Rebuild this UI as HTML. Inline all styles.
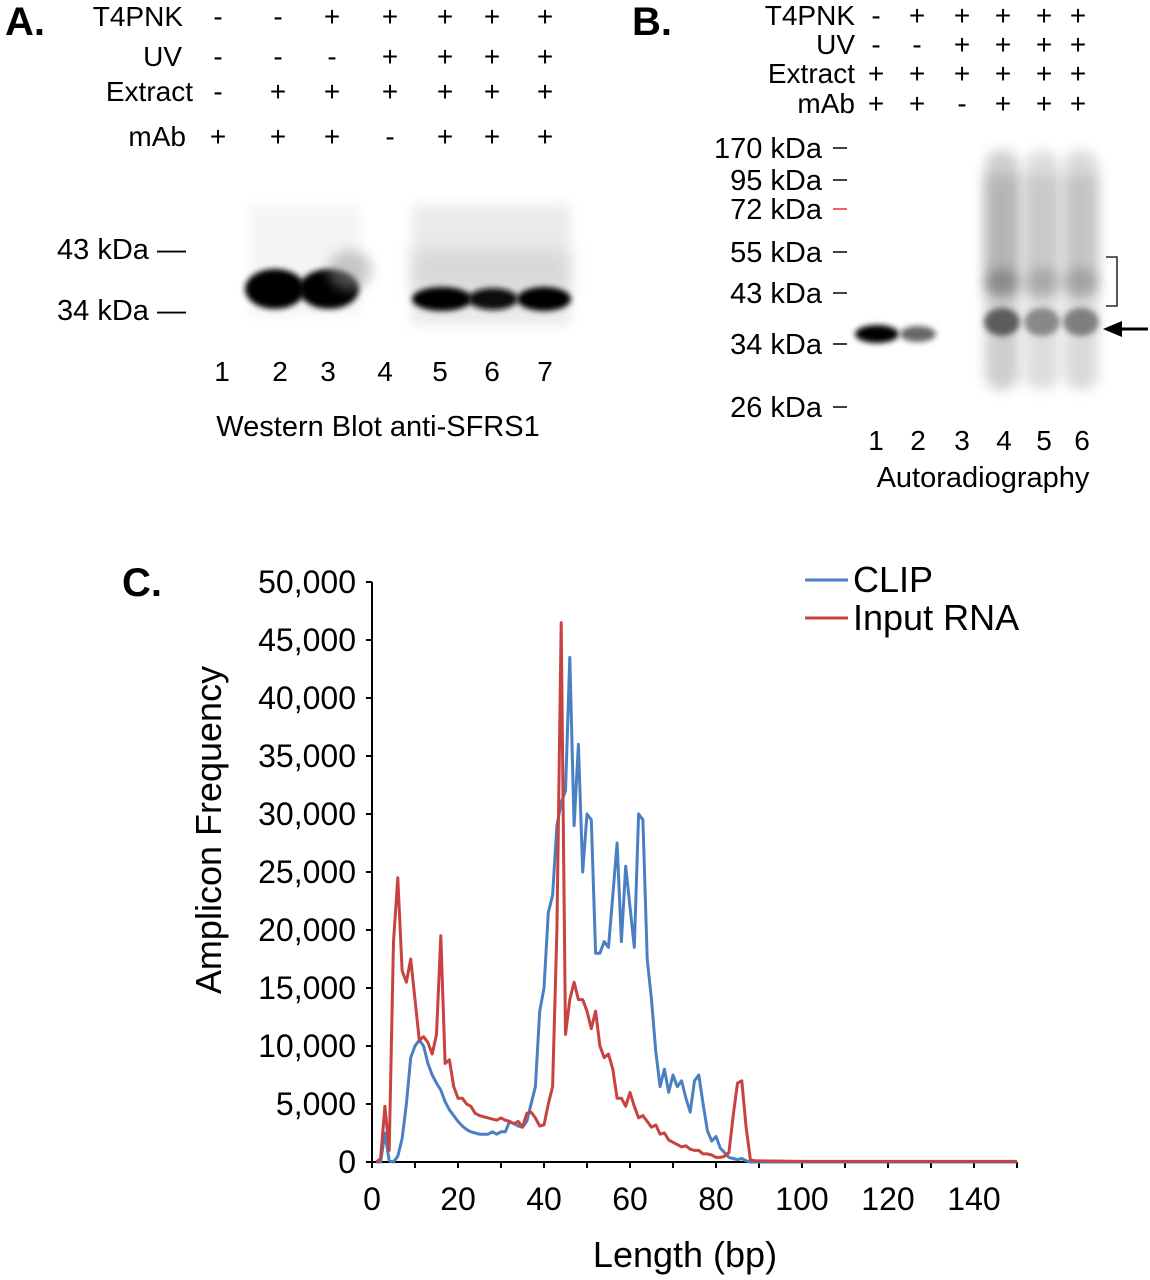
<!DOCTYPE html>
<html><head><meta charset="utf-8"><style>
body{margin:0;background:#fff;}
svg{display:block;font-family:"Liberation Sans",Arial,sans-serif;}
</style></head><body>
<svg id="fig" width="1150" height="1280" viewBox="0 0 1150 1280">
<defs>
<filter id="b6" x="-50%" y="-50%" width="200%" height="200%"><feGaussianBlur stdDeviation="6"/></filter>
<filter id="b3" x="-50%" y="-50%" width="200%" height="200%"><feGaussianBlur stdDeviation="3"/></filter>
<filter id="b10" x="-50%" y="-50%" width="200%" height="200%"><feGaussianBlur stdDeviation="9"/></filter>
</defs>
<g id="panelA"></g>
<g id="panelB"></g>
<g id="panelC"></g>
</svg>
<script>
// ---- Chart data (panel C) ----
const xTicks = [0,20,40,60,80,100,120,140];
const yTicks = [0,5000,10000,15000,20000,25000,30000,35000,40000,45000,50000];
const yTickLabels = ["0","5,000","10,000","15,000","20,000","25,000","30,000","35,000","40,000","45,000","50,000"];
const clipBp = [1,2,3,4,5,6,7,8,9,10,11,12,13,14,15,16,17,18,19,20,21,22,23,24,25,26,27,28,29,30,31,32,33,34,35,36,37,38,39,40,41,42,43,44,45,46,47,48,49,50,51,52,53,54,55,56,57,58,59,60,61,62,63,64,65,66,67,68,69,70,71,72,73,74,75,76,77,78,79,80,81,82,83,84,85,86,87,88,100,120,150];
const clipVals = [0,0,2500,100,0,500,2000,5000,9000,10000,10500,10000,8500,7500,6800,6200,5200,4500,4000,3500,3100,2800,2600,2500,2400,2400,2400,2600,2400,2600,2600,3500,3300,3100,3000,3500,5000,6500,13000,15000,21500,23000,29000,31000,32000,43500,29000,36000,25000,30000,29500,18000,18000,19000,18500,23000,27500,19000,25500,22000,18500,30000,29500,17500,14000,9500,6500,8000,6000,7500,6500,7000,5500,4300,7000,7500,5000,2700,1800,2200,1200,800,400,300,200,300,100,0,0,0,0];
const inputBp = [1,2,3,4,5,6,7,8,9,10,11,12,13,14,15,16,17,18,19,20,21,22,23,24,25,26,27,28,29,30,31,32,33,34,35,36,37,38,39,40,41,42,43,44,45,46,47,48,49,50,51,52,53,54,55,56,57,58,59,60,61,62,63,64,65,66,67,68,69,70,71,72,73,74,75,76,77,78,79,80,81,82,83,84,85,86,87,88,89,100,120,150];
const inputVals = [0,300,4800,1000,19000,24500,16500,15500,17500,14000,10500,10800,10300,9300,11000,19500,8500,8800,6500,5500,5500,5000,4800,4200,4000,3900,3800,3700,3600,3800,3600,3500,3300,3500,3000,4200,4300,3800,3100,3200,5000,6500,20000,46500,11000,14000,15500,14000,14000,13000,11500,13000,10000,9000,9300,8000,5500,5500,4800,6000,4800,3800,4000,3500,3000,3200,2400,2500,1900,1700,1500,1300,1400,1100,1000,1000,700,700,600,400,400,500,800,4000,6800,7000,3000,200,100,50,50,50];

const NS="http://www.w3.org/2000/svg";
function el(parent,tag,attrs,text){const e=document.createElementNS(NS,tag);for(const k in attrs)e.setAttribute(k,attrs[k]);if(text!==undefined)e.textContent=text;parent.appendChild(e);return e;}

// ---------- Panel A ----------
const A=document.getElementById('panelA');
let t=el(A,'text',{x:5,y:35,'font-size':40,'font-weight':'bold'},'A.');


const aRows=[["T4PNK",26,"--+++++"],["UV",66,"---++++"],["Extract",101,"-++++++"],["mAb",146,"+++-+++"]];
const aCols=[218,278,332,390,445,492,545];
const aRight=[183,182,193,186];
aRows.forEach((r,i)=>{
  let l=el(A,'text',{x:aRight[i],y:r[1],'font-size':28,'text-anchor':'end'},r[0]);
  
  
  [...r[2]].forEach((c,j)=>{
    let s=el(A,'text',{x:aCols[j],y:r[1],'font-size':28,'text-anchor':'middle'},c);
    
    
  });
});
// gel A
let g=el(A,'g',{});


el(g,'rect',{x:250,y:205,width:110,height:110,fill:'#f4f4f4',filter:'url(#b6)'});
el(g,'rect',{x:412,y:205,width:158,height:120,fill:'#eaeaea',filter:'url(#b6)'});
el(g,'rect',{x:412,y:250,width:158,height:40,fill:'#ccc',opacity:0.6,filter:'url(#b10)'});
el(g,'ellipse',{cx:275,cy:289,rx:30,ry:20,fill:'#000',filter:'url(#b3)'});
el(g,'ellipse',{cx:329,cy:289,rx:30,ry:20,fill:'#000',filter:'url(#b3)'});
el(g,'ellipse',{cx:350,cy:270,rx:22,ry:20,fill:'#999',opacity:0.5,filter:'url(#b6)'});
el(g,'ellipse',{cx:442,cy:299,rx:30,ry:12,fill:'#000',filter:'url(#b3)'});
el(g,'ellipse',{cx:493,cy:299,rx:25,ry:11,fill:'#111',filter:'url(#b3)'});
el(g,'ellipse',{cx:544,cy:299,rx:27,ry:12,fill:'#000',filter:'url(#b3)'});
[["43 kDa —",259],["34 kDa —",320]].forEach(m=>{
  let l=el(A,'text',{x:186,y:m[1],'font-size':29,'text-anchor':'end'},m[0]);
  
  
});
[222,280,328,385,440,492,545].forEach((x,i)=>{
  let l=el(A,'text',{x:x,y:381,'font-size':28,'text-anchor':'middle'},String(i+1));
  
  
});
t=el(A,'text',{x:378,y:436,'font-size':29,'text-anchor':'middle'},'Western Blot anti-SFRS1');



// ---------- Panel B ----------
const B=document.getElementById('panelB');
t=el(B,'text',{x:632,y:35,'font-size':40,'font-weight':'bold'},'B.');


const bRows=[["T4PNK",25,"-+++++"],["UV",54,"--++++"],["Extract",83,"++++++"],["mAb",113,"++-+++"]];
const bCols=[876,917,962,1003,1044,1078];
bRows.forEach(r=>{
  let l=el(B,'text',{x:855,y:r[1],'font-size':28,'text-anchor':'end'},r[0]);
  
  
  [...r[2]].forEach((c,j)=>{
    let s=el(B,'text',{x:bCols[j],y:r[1],'font-size':28,'text-anchor':'middle'},c);
    
    
  });
});
g=el(B,'g',{});


[[1002,0.8],[1042,0.55],[1081,0.6]].forEach(l=>{
  el(g,'rect',{x:l[0]-17,y:150,width:34,height:240,rx:16,fill:'#999',opacity:l[1]*0.6,filter:'url(#b6)'});
  el(g,'rect',{x:l[0]-18,y:175,width:36,height:100,fill:'#777',opacity:l[1]*0.35,filter:'url(#b6)'});
  el(g,'ellipse',{cx:l[0],cy:283,rx:18,ry:14,fill:'#444',opacity:l[1]*0.6,filter:'url(#b6)'});
  el(g,'ellipse',{cx:l[0],cy:322,rx:18,ry:14,fill:'#333',opacity:l[1]*0.9,filter:'url(#b3)'});
});
el(g,'ellipse',{cx:877,cy:334,rx:22,ry:9,fill:'#000',filter:'url(#b3)'});
el(g,'ellipse',{cx:918,cy:334,rx:18,ry:8,fill:'#666',filter:'url(#b3)'});
const bMarks=[["170 kDa",148,'#000'],["95 kDa",180,'#000'],["72 kDa",209,'#e33'],["55 kDa",252,'#000'],["43 kDa",293,'#000'],["34 kDa",344,'#000'],["26 kDa",407,'#000']];
bMarks.forEach(m=>{
  let l=el(B,'text',{x:822,y:m[1]+10,'font-size':29,'text-anchor':'end'},m[0]);
  
  
  el(B,'line',{x1:833,x2:847,y1:m[1],y2:m[1],stroke:m[2],'stroke-width':1.5});
});
let br=el(B,'path',{d:'M1106 257 H1117 V306 H1106',fill:'none',stroke:'#000','stroke-width':1.3});


let ar=el(B,'g',{});


el(ar,'line',{x1:1148,x2:1115,y1:329,y2:329,stroke:'#000','stroke-width':3});
el(ar,'polygon',{points:'1103,329 1122,321 1122,337',fill:'#000'});
[876,918,962,1004,1044,1082].forEach((x,i)=>{
  let l=el(B,'text',{x:x,y:450,'font-size':28,'text-anchor':'middle'},String(i+1));
  
  
});
t=el(B,'text',{x:983,y:487,'font-size':29,'text-anchor':'middle'},'Autoradiography');



// ---------- Panel C ----------
const C=document.getElementById('panelC');
const X0=372,PXBP=4.3,Y0=1162,PXV=580/50000;
const xs=v=>X0+v*PXBP, ys=v=>Y0-v*PXV;
t=el(C,'text',{x:122,y:596,'font-size':40,'font-weight':'bold'},'C.');


let ax=el(C,'line',{x1:X0,x2:X0,y1:ys(50000),y2:Y0+1,stroke:'#000','stroke-width':2});


ax=el(C,'line',{x1:X0-1,x2:xs(150),y1:Y0,y2:Y0,stroke:'#000','stroke-width':2});


yTicks.forEach((v,i)=>{
  el(C,'line',{x1:X0-6,x2:X0,y1:ys(v),y2:ys(v),stroke:'#000','stroke-width':2});
  let l=el(C,'text',{x:356,y:ys(v)+11,'font-size':32,'text-anchor':'end'},yTickLabels[i]);
  
  
});
for(let v=0;v<=150;v+=10){el(C,'line',{x1:xs(v),x2:xs(v),y1:Y0,y2:Y0+6,stroke:'#000','stroke-width':2});}
xTicks.forEach(v=>{
  let l=el(C,'text',{x:xs(v),y:1210,'font-size':32,'text-anchor':'middle'},String(v));
  
  
});
t=el(C,'text',{x:685,y:1267,'font-size':36,'text-anchor':'middle'},'Length (bp)');


t=el(C,'text',{x:0,y:0,'font-size':36,'text-anchor':'middle',transform:'translate(221,830) rotate(-90)'},'Amplicon Frequency');


function series(bp,vals,color,name){
  const d=bp.map((b,i)=>(i?'L':'M')+xs(b).toFixed(1)+' '+ys(vals[i]).toFixed(1)).join(' ');
  const p=el(C,'path',{d:d,fill:'none',stroke:color,'stroke-width':3,'stroke-linejoin':'round'});
  
  
}
series(clipBp,clipVals,'#4a7fc4','clip-line');
series(inputBp,inputVals,'#c8423f','input-rna-line');
[["CLIP",580,'#4a7fc4'],["Input RNA",618,'#c8423f']].forEach(e=>{
  let lg=el(C,'g',{});
  
  
  el(lg,'line',{x1:805,x2:848,y1:e[1],y2:e[1],stroke:e[2],'stroke-width':3});
  el(lg,'text',{x:853,y:e[1]+12,'font-size':36},e[0]);
});
</script>
</body></html>
